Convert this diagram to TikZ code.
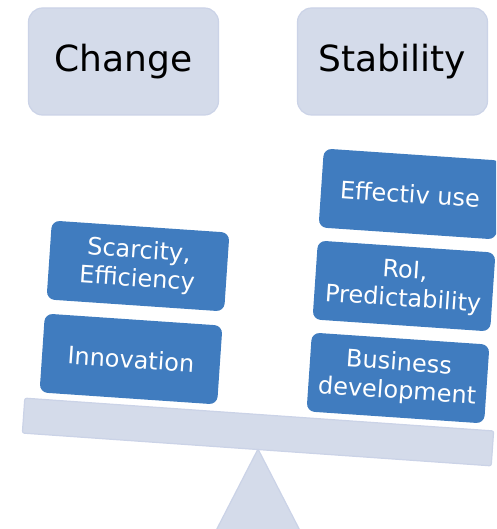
\documentclass[tikz,border=0pt]{standalone}
\usepackage{fontspec}
\newfontfamily\wf{DejaVu Sans}
\definecolor{lav}{HTML}{D4DBEA}
\definecolor{lavedge}{HTML}{CBD3E7}
\definecolor{blu}{HTML}{407CBF}
\begin{document}
\begin{tikzpicture}[x=1pt,y=-1pt,
  topbox/.style={fill=lav,draw=lavedge,line width=1.2pt,rounded corners=14pt,minimum width=190pt,minimum height=107pt,inner sep=0pt,font=\wf\fontsize{36}{43}\selectfont,text=black},
  bluebox/.style={fill=blu,draw=none,rounded corners=8pt,minimum width=178pt,minimum height=79pt,inner sep=0pt,rotate=-3.9,align=center,text=white,font=\wf\fontsize{24}{28.5}\selectfont},
  lav shape/.style={fill=lav,draw=lavedge,line width=1.2pt}]
\useasboundingbox (0,0) rectangle (496,529);
\clip (0,0) rectangle (496,529);
% fulcrum
\coordinate (apex) at (258,449);
\coordinate (bl) at (205,552);
\coordinate (br) at (311,552);
\path[lav shape] (apex) -- (bl) -- (br) -- cycle;
% beam
\node[lav shape,rounded corners=2pt,minimum width=470pt,minimum height=35pt,inner sep=0pt,rotate=-4] (beam) at (258,432) {};
% headers
\node[topbox] (change) at (123.5,61.5) {Change};
\node[topbox] (stability) at (392.5,61.5) {Stability};
% left stack
\node[bluebox] (scarcity) at (138,266) {Scarcity,\\Efficiency};
\node[bluebox] (innovation) at (131,359) {Innovation};
% right stack
\node[bluebox] (effectiv) at (410,194) {Effectiv use};
\node[bluebox] (roi) at (404,286) {RoI,\\Predictability};
\node[bluebox] (business) at (398,378) {Business\\development};
\end{tikzpicture}
\end{document}
